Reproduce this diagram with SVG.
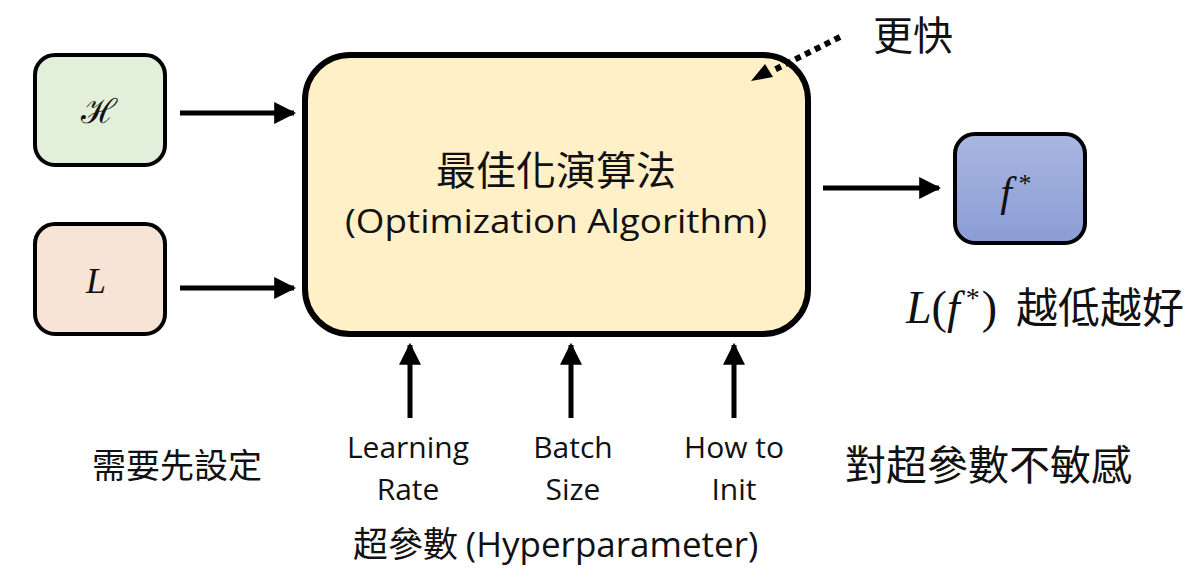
<svg xmlns="http://www.w3.org/2000/svg" width="1188" height="581" viewBox="0 0 1188 581">
<style>
.box{stroke:#000;stroke-width:4}
.cjk{font-family:"Noto Sans CJK TC","Noto Sans CJK SC",sans-serif;fill:#111}
.lat{font-family:"Open Sans","Noto Sans",sans-serif;fill:#111}
.math{font-family:"Liberation Serif","DejaVu Serif",serif;font-style:italic;fill:#111}
.rm{font-family:"Liberation Serif","DejaVu Serif",serif;font-style:normal}
.conn{stroke:#000;stroke-width:5;fill:none}
</style>
<defs>
<marker id="ah" viewBox="0 0 10 10" refX="9" refY="5" markerWidth="4.4" markerHeight="4.4" markerUnits="strokeWidth" orient="auto">
<path d="M0,0 L10,5 L0,10 Z" fill="#000"/>
</marker>
<linearGradient id="gb" x1="0" y1="0" x2="0" y2="1">
<stop offset="0" stop-color="#a9b6e0"/>
<stop offset="1" stop-color="#8a9dd5"/>
</linearGradient>
</defs>
<rect width="1188" height="581" fill="#fff"/>
<g id="nodeH">
<rect class="box" x="35" y="55" width="130" height="110" rx="20" fill="#e2efda"/>
<text x="99" y="123" font-size="34" text-anchor="middle" font-family="DejaVu Serif,serif" fill="#111">ℋ</text>
</g>
<g id="nodeL">
<rect class="box" x="35" y="224" width="130" height="110" rx="20" fill="#f8e4d6"/>
<text class="math" x="96" y="293" font-size="36" text-anchor="middle">L</text>
</g>
<g id="nodeOpt">
<rect x="305" y="55" width="503" height="279" rx="45" fill="#fff0c8" stroke="#000" stroke-width="6"/>
<text class="cjk" x="556" y="185" font-size="40" text-anchor="middle">最佳化演算法</text>
<text class="lat" x="556" y="233" font-size="32" text-anchor="middle" textLength="422" lengthAdjust="spacingAndGlyphs">(Optimization Algorithm)</text>
</g>
<g id="nodeF">
<rect class="box" x="955" y="134" width="130" height="109" rx="20" fill="url(#gb)"/>
<text class="math" x="1006" y="206" font-size="42" text-anchor="middle">f</text>
<text class="rm" x="1025" y="192" font-size="26" text-anchor="middle" fill="#111">*</text>
</g>
<g id="connectors">
<line class="conn" x1="180" y1="113" x2="294" y2="113" marker-end="url(#ah)"/>
<line class="conn" x1="180" y1="288" x2="294" y2="288" marker-end="url(#ah)"/>
<line class="conn" x1="823" y1="188" x2="939" y2="188" marker-end="url(#ah)"/>
<line class="conn" x1="410" y1="418" x2="410" y2="345" marker-end="url(#ah)"/>
<line class="conn" x1="571" y1="418" x2="571" y2="345" marker-end="url(#ah)"/>
<line class="conn" x1="734" y1="418" x2="734" y2="345" marker-end="url(#ah)"/>
<line x1="840" y1="37" x2="772" y2="71" stroke="#000" stroke-width="6" stroke-dasharray="6,5"/>
<path d="M751,81 L765,64 L773,77 Z" fill="#000"/>
</g>
<g id="labels">
<text class="cjk" x="873" y="50" font-size="40">更快</text>
<text class="lat" x="408" y="458" font-size="30" text-anchor="middle">Learning</text>
<text class="lat" x="408" y="500" font-size="30" text-anchor="middle">Rate</text>
<text class="lat" x="573" y="458" font-size="30" text-anchor="middle">Batch</text>
<text class="lat" x="573" y="500" font-size="30" text-anchor="middle">Size</text>
<text class="lat" x="734" y="458" font-size="30" text-anchor="middle">How to</text>
<text class="lat" x="734" y="500" font-size="30" text-anchor="middle">Init</text>
<text x="353" y="557" font-size="35" fill="#111"><tspan class="cjk">超參數 </tspan><tspan class="lat">(Hyperparameter)</tspan></text>
<text class="cjk" x="92" y="478" font-size="34">需要先設定</text>
<text class="cjk" x="845" y="480" font-size="41">對超參數不敏感</text>
<text x="906" y="323" font-size="46" fill="#111"><tspan class="math">L</tspan><tspan class="rm">(</tspan><tspan class="math">f</tspan><tspan class="rm" font-size="28" dx="6" dy="-16">*</tspan><tspan class="rm" dx="2" dy="16">)</tspan></text>
<text class="cjk" x="1016" y="323" font-size="42">越低越好</text>
</g>
</svg>
